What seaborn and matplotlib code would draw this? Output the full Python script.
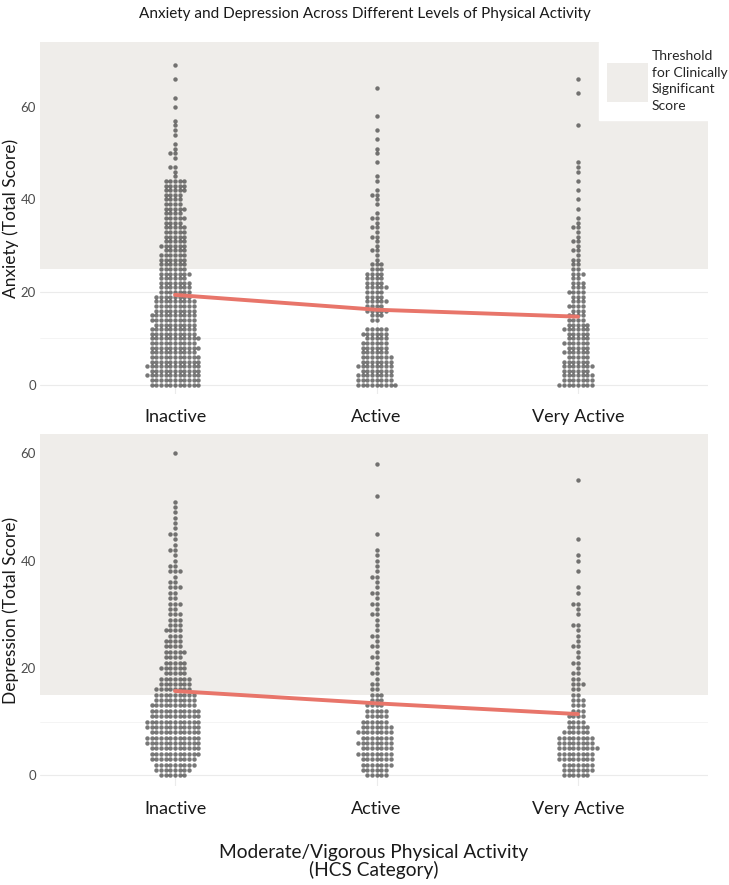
import numpy as np
import pandas as pd
import seaborn as sns
import matplotlib.pyplot as plt
from matplotlib.patches import Patch

# activity categories
categories = ["Inactive", "Active", "Very Active"]

# number of participants at each total score (index = score)
anx_inactive = [11, 11, 12, 11, 12, 11, 11, 10, 11, 10, 11, 10, 10, 9, 10, 10, 9, 9, 9, 8,
                7, 7, 7, 6, 7, 6, 6, 6, 6, 5, 6, 5, 5, 5, 5, 4, 5, 4, 5, 4,
                4, 4, 5, 5, 5, 1, 1, 2, 0, 1, 2, 1, 1, 0, 1, 1, 1, 1, 0, 0,
                1, 0, 1, 0, 0, 0, 1, 0, 0, 1]
anx_active = [9, 8, 8, 7, 8, 7, 7, 6, 6, 6, 5, 6, 5, 0, 2, 3, 5, 4, 5, 4,
              4, 5, 4, 4, 4, 3, 3, 1, 1, 2, 1, 1, 2, 1, 2, 1, 2, 1, 0, 1,
              1, 2, 1, 0, 1, 1, 0, 0, 1, 0, 1, 1, 0, 1, 0, 1, 0, 0, 1, 0,
              0, 0, 0, 0, 1]
anx_very = [8, 7, 7, 6, 7, 6, 5, 6, 5, 6, 5, 5, 6, 5, 4, 4, 3, 4, 3, 3,
            4, 3, 3, 2, 3, 2, 2, 2, 1, 2, 1, 2, 1, 1, 2, 1, 1, 0, 1, 0,
            1, 0, 1, 0, 1, 0, 1, 1, 1, 0, 0, 0, 0, 0, 0, 0, 1, 0, 0, 0,
            0, 0, 0, 1, 0, 0, 1]

dep_inactive = [6, 8, 9, 10, 11, 11, 12, 12, 11, 12, 12, 11, 11, 10, 9, 9, 8, 7, 7, 5,
                6, 5, 4, 5, 4, 4, 3, 4, 3, 3, 3, 2, 3, 2, 2, 3, 2, 1, 3, 2,
                1, 1, 2, 1, 1, 2, 1, 1, 1, 1, 1, 1, 0, 0, 0, 0, 0, 0, 0, 0,
                1]
dep_active = [5, 6, 7, 7, 8, 7, 8, 7, 8, 7, 6, 5, 5, 4, 3, 3, 2, 2, 1, 2,
              1, 1, 2, 1, 2, 1, 2, 1, 1, 1, 2, 1, 2, 1, 2, 1, 1, 2, 1, 1,
              1, 1, 1, 0, 0, 1, 0, 0, 0, 0, 0, 0, 1, 0, 0, 0, 0, 0, 1]
dep_very = [6, 7, 7, 8, 8, 9, 8, 8, 6, 5, 4, 4, 3, 3, 3, 2, 2, 3, 2, 2,
            1, 2, 1, 1, 2, 1, 1, 1, 2, 0, 1, 1, 2, 0, 1, 1, 0, 0, 1, 0,
            1, 1, 0, 0, 1, 0, 0, 0, 0, 0, 0, 0, 0, 0, 0, 1]

# group means (red line)
anx_means = [19.4, 16.2, 14.7]
dep_means = [15.7, 13.4, 11.4]

# clinical thresholds
anx_threshold = 25
dep_threshold = 15


def expand(count_lists):
    rows = []
    for cat, counts in zip(categories, count_lists):
        scores = np.repeat(np.arange(len(counts)), counts)
        rows.append(pd.DataFrame({"activity": cat, "score": scores}))
    return pd.concat(rows, ignore_index=True)


anx_df = expand([anx_inactive, anx_active, anx_very])
dep_df = expand([dep_inactive, dep_active, dep_very])

sns.set_style("white")
plt.rcParams["font.family"] = ["Lato", "DejaVu Sans"]

fig = plt.figure(figsize=(7.29, 8.85), dpi=100)
ax1 = fig.add_axes([0.0549, 0.5548, 0.9163, 0.3977])
ax2 = fig.add_axes([0.0549, 0.1119, 0.9163, 0.3977])

shade = "#efedea"
panels = [
    (ax1, anx_df, anx_means, anx_threshold, (-2, 74), "Anxiety (Total Score)"),
    (ax2, dep_df, dep_means, dep_threshold, (-2, 63.6), "Depression (Total Score)"),
]

for ax, df, means, thr, ylim, ylab in panels:
    sns.swarmplot(data=df, x="activity", y="score", order=categories, ax=ax,
                  color="#262626", alpha=0.62, size=3.2, linewidth=0, zorder=3)
    sns.pointplot(x=categories, y=means, order=categories, ax=ax, color="#e8756a",
                  markers="", linewidth=2.8, zorder=4)
    ax.axhspan(thr, ylim[1], color=shade, zorder=1, linewidth=0)
    ax.set_ylim(*ylim)
    ax.set_xlim(-0.67, 2.645)
    ax.set_yticks([0, 20, 40, 60])
    ax.set_yticks([10, 30, 50], minor=True)
    ax.grid(True, which="major", color="#ebebeb", linewidth=0.8, zorder=0)
    ax.grid(True, which="minor", axis="y", color="#f3f3f3", linewidth=0.6, zorder=0)
    ax.set_axisbelow(True)
    for s in ax.spines.values():
        s.set_visible(False)
    ax.tick_params(axis="y", labelsize=9.5, labelcolor="#4d4d4d", length=0, pad=3)
    ax.tick_params(axis="x", labelsize=13, labelcolor="#1a1a1a", length=0, pad=11)
    ax.set_xlabel("")
    ax.set_ylabel(ylab, fontsize=12.5, color="#1a1a1a")
    ax.yaxis.set_label_coords(-0.031, 0.5)

ax2.set_xlabel("Moderate/Vigorous Physical Activity\n(HCS Category)", fontsize=13.8,
               color="#1a1a1a", labelpad=19, linespacing=1.05)

fig.suptitle("Anxiety and Depression Across Different Levels of Physical Activity",
             x=0.50, y=0.992, fontsize=11, color="#1a1a1a")

handle = Patch(facecolor=shade, edgecolor="none")
leg = fig.legend([handle], ["Threshold\nfor Clinically\nSignificant\nScore"],
                 loc="upper left", bbox_to_anchor=(599 / 729, 1 - 42 / 885),
                 frameon=True, fontsize=10, handlelength=2.9, handleheight=4.0,
                 borderpad=0.6, handletextpad=0.3, borderaxespad=0, labelspacing=0)
leg.get_frame().set_facecolor("white")
leg.get_frame().set_edgecolor("white")
leg.get_frame().set_boxstyle("square", pad=0)
leg.get_frame().set_alpha(1)
for t in leg.get_texts():
    t.set_linespacing(1.45)

fig.savefig("out.png", dpi=100)
